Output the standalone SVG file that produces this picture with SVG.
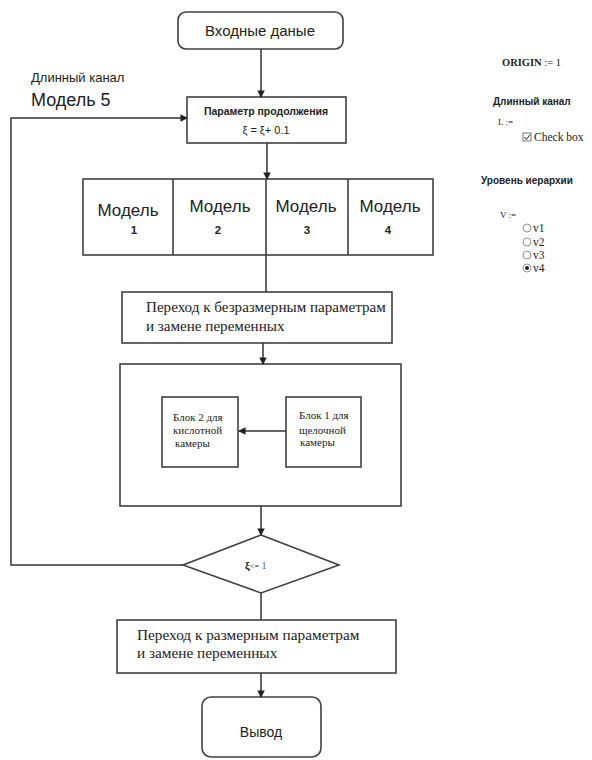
<svg xmlns="http://www.w3.org/2000/svg" width="592" height="760" viewBox="0 0 592 760">
<style>
.box{fill:#fff;stroke:#404040;stroke-width:1.6}
.ln{fill:none;stroke:#333;stroke-width:1.5}
.sans{font-family:"Liberation Sans",Arial,sans-serif;fill:#222}
.serif{font-family:"Liberation Serif","Times New Roman",serif;fill:#222}
</style>
<defs>
<marker id="ah" viewBox="0 0 8 8" refX="7" refY="4" markerWidth="5" markerHeight="5" orient="auto">
<path d="M0,0 L8,4 L0,8 z" fill="#222"/>
</marker>
</defs>
<rect width="592" height="760" fill="#fff"/>
<g id="start">
<rect class="box" x="178" y="12" width="165" height="37" rx="8"/>
<text class="sans" x="260" y="36" font-size="15" text-anchor="middle">Входные даные</text>
</g>
<g id="labels-left">
<text class="sans" x="31" y="82" font-size="13">Длинный канал</text>
<text class="sans" x="31" y="106" font-size="18">Модель 5</text>
</g>
<g id="param">
<rect class="box" x="187" y="97" width="159" height="46"/>
<text class="sans" x="266" y="115" font-size="10.5" font-weight="bold" text-anchor="middle">Параметр продолжения</text>
<text class="sans" x="266" y="134" font-size="11" text-anchor="middle">ξ = ξ+ 0.1</text>
</g>
<g id="models">
<rect class="box" x="83" y="179" width="350" height="76"/>
<line class="ln" x1="173" y1="179" x2="173" y2="255"/>
<line class="ln" x1="266" y1="179" x2="266" y2="255"/>
<line class="ln" x1="348" y1="179" x2="348" y2="255"/>
<g class="sans" font-size="17" text-anchor="middle">
<text x="128" y="216">Модель</text>
<text x="220" y="212">Модель</text>
<text x="306" y="212">Модель</text>
<text x="390" y="212">Модель</text>
</g>
<g class="sans" font-size="11.5" font-weight="bold" text-anchor="middle">
<text x="134" y="234">1</text>
<text x="218" y="234">2</text>
<text x="307" y="234">3</text>
<text x="388" y="234">4</text>
</g>
</g>
<g id="transition1">
<rect class="box" x="122" y="292" width="270" height="51"/>
<text class="serif" x="146" y="312" font-size="15.1">Переход к безразмерным параметрам</text>
<text class="serif" x="146" y="331" font-size="15.1">и замене переменных</text>
</g>
<g id="bigbox">
<rect class="box" x="120" y="364" width="281" height="142"/>
</g>
<g id="block2">
<rect class="box" x="162" y="397" width="76" height="70"/>
<text class="serif" x="173" y="421" font-size="11">Блок 2  для</text>
<text class="serif" x="173" y="434" font-size="11">кислотной</text>
<text class="serif" x="175" y="447" font-size="11">камеры</text>
</g>
<g id="block1">
<rect class="box" x="286" y="397" width="75" height="70"/>
<text class="serif" x="299" y="419" font-size="11">Блок 1 для</text>
<text class="serif" x="299" y="434" font-size="11">щелочной</text>
<text class="serif" x="300" y="446" font-size="11">камеры</text>
</g>
<g id="decision">
<polygon class="box" points="261,535 339,565 261,593 183,565"/>
<text class="serif" x="245" y="569" font-size="10"><tspan font-weight="bold" font-size="11">ξ</tspan><tspan font-size="8">&lt;=</tspan> <tspan fill="#3060a0">1</tspan></text>
</g>
<g id="transition2">
<rect class="box" x="117" y="620" width="279" height="53"/>
<text class="serif" x="137" y="640" font-size="15.3">Переход к размерным параметрам</text>
<text class="serif" x="137" y="658" font-size="15.3">и замене переменных</text>
</g>
<g id="output">
<rect class="box" x="202" y="697" width="119" height="60" rx="9"/>
<text class="sans" x="261" y="737" font-size="14" text-anchor="middle">Вывод</text>
</g>
<g id="panel">
<text class="serif" x="502" y="66" font-size="10.5" font-weight="bold">ORIGIN <tspan font-weight="normal">:= 1</tspan></text>
<text class="sans" x="493" y="105" font-size="10" font-weight="bold">Длинный канал</text>
<text class="serif" x="498" y="125" font-size="9">L :=</text>
<rect x="523" y="133" width="8" height="8" fill="#fff" stroke="#555" stroke-width="0.8"/>
<path d="M524.5,137 L526.5,139.5 L530,134.5" fill="none" stroke="#222" stroke-width="1"/>
<text class="serif" x="534" y="141" font-size="11.5">Check box</text>
<text class="sans" x="481" y="184" font-size="10" font-weight="bold">Уровень иерархии</text>
<text class="serif" x="500" y="218" font-size="9">V :=</text>
<g fill="#fff" stroke="#777" stroke-width="0.8">
<circle cx="527" cy="228" r="4"/>
<circle cx="527" cy="242" r="4"/>
<circle cx="527" cy="255" r="4"/>
<circle cx="527" cy="268" r="4"/>
</g>
<circle cx="527" cy="268" r="2" fill="#222"/>
<g class="serif" font-size="11.5">
<text x="533" y="232">v1</text>
<text x="533" y="246">v2</text>
<text x="533" y="259">v3</text>
<text x="533" y="272">v4</text>
</g>
</g>
<g id="connectors">
<line class="ln" x1="261" y1="49" x2="261" y2="97" marker-end="url(#ah)"/>
<line class="ln" x1="267" y1="143" x2="267" y2="179" marker-end="url(#ah)"/>
<line class="ln" x1="266" y1="255" x2="266" y2="292"/>
<line class="ln" x1="263" y1="343" x2="263" y2="364" marker-end="url(#ah)"/>
<line class="ln" x1="286" y1="431" x2="239" y2="431" marker-end="url(#ah)"/>
<line class="ln" x1="261" y1="506" x2="261" y2="535" marker-end="url(#ah)"/>
<polyline class="ln" points="183,565 11,565 11,118 187,118" marker-end="url(#ah)"/>
<line class="ln" x1="261" y1="593" x2="261" y2="620"/>
<line class="ln" x1="261" y1="673" x2="261" y2="697" marker-end="url(#ah)"/>
</g>
</svg>
